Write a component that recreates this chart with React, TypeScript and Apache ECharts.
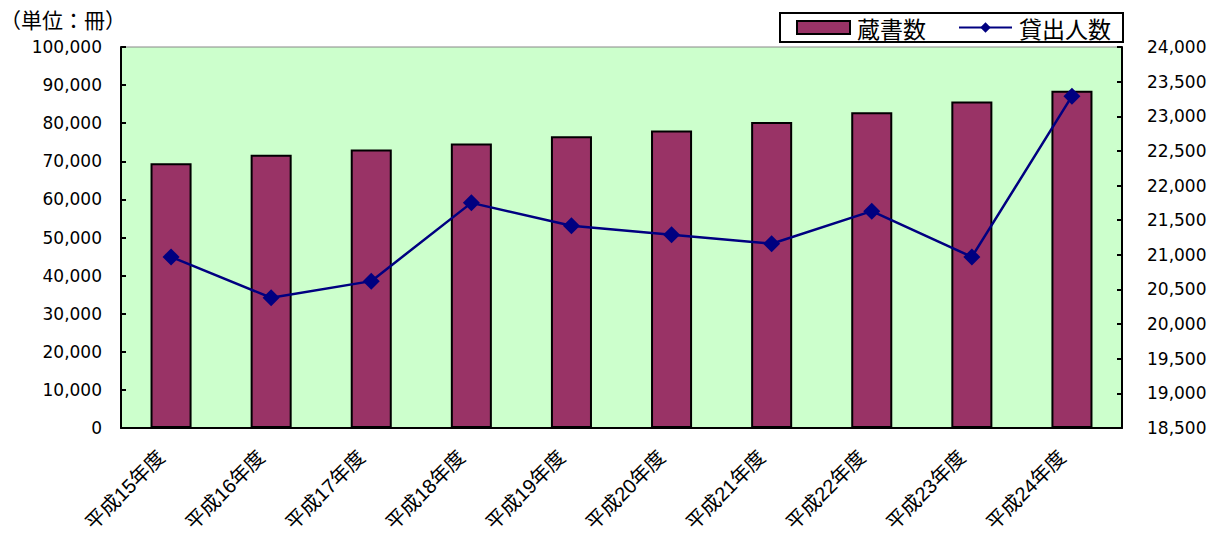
import React, { useEffect, useRef } from "react";
import * as echarts from "echarts";

const categories = ["平成15年度", "平成16年度", "平成17年度", "平成18年度", "平成19年度", "平成20年度", "平成21年度", "平成22年度", "平成23年度", "平成24年度"];
const zoshoValues = [69500, 71700, 73100, 74700, 76600, 78100, 80300, 82900, 85700, 88500];
const kashidashiValues = [20970, 20380, 20620, 21750, 21420, 21290, 21160, 21630, 20970, 23290];
const seriesNames = ["蔵書数", "貸出人数"];
const unitLabel = "（単位：冊）";

const NUM_FONT = "'DejaVu Sans', 'Noto Sans CJK JP', sans-serif";
const CAT_FONT = "'Liberation Sans', 'Noto Sans CJK JP', sans-serif";
const CJK_FONT = "'Noto Sans CJK JP', sans-serif";

export default function App() {
  const ref = useRef<HTMLDivElement>(null);
  useEffect(() => {
    if (!ref.current) return;
    const chart = echarts.init(ref.current, undefined, { renderer: "svg" });
    chart.setOption({
      animation: false,
      graphic: [
        {
          type: "text",
          left: 0,
          top: 8,
          style: { text: unitLabel, font: `21px ${CJK_FONT}`, fill: "#000" },
        },
      ],
      legend: {
        data: [
          { name: seriesNames[0], icon: "rect" },
          { name: seriesNames[1] },
        ],
        left: 780,
        top: 13,
        itemWidth: 53,
        itemHeight: 13,
        itemGap: 32,
        padding: [3, 12, 3, 16],
        backgroundColor: "#fff",
        borderColor: "#000",
        borderWidth: 2,
        borderRadius: 0,
        textStyle: { fontSize: 23, color: "#000", fontFamily: CJK_FONT, padding: [0, 0, 0, 2] },
      },
      grid: {
        left: 121,
        right: 1211 - 1122,
        top: 47,
        bottom: 538 - 428,
        show: true,
        backgroundColor: "#CCFFCC",
        borderColor: "#888",
        borderWidth: 1,
        containLabel: false,
      },
      xAxis: {
        type: "category",
        data: categories,
        axisLine: { lineStyle: { color: "#000", width: 2 } },
        axisTick: { inside: true, length: 5, lineStyle: { color: "#000", width: 2 } },
        axisLabel: {
          rotate: 45,
          fontSize: 20,
          color: "#000",
          margin: 16,
          padding: [0, 14, 0, 0],
          fontFamily: CAT_FONT,
        },
      },
      yAxis: [
        {
          type: "value",
          min: 0,
          max: 100000,
          interval: 10000,
          axisLine: { show: true, lineStyle: { color: "#000", width: 2 } },
          axisTick: { show: true, inside: true, length: 5, lineStyle: { color: "#000", width: 2 } },
          splitLine: { show: false },
          axisLabel: {
            fontSize: 17,
            color: "#000",
            margin: 19,
            fontFamily: NUM_FONT,
            formatter: (v: number) => v.toLocaleString("en-US"),
          },
        },
        {
          type: "value",
          min: 18500,
          max: 24000,
          interval: 500,
          position: "right",
          axisLine: { show: true, lineStyle: { color: "#000", width: 2 } },
          axisTick: { show: true, inside: true, length: 5, lineStyle: { color: "#000", width: 2 } },
          splitLine: { show: false },
          axisLabel: {
            fontSize: 17,
            color: "#000",
            margin: 25,
            fontFamily: NUM_FONT,
            formatter: (v: number) => v.toLocaleString("en-US"),
          },
        },
      ],
      series: [
        {
          name: seriesNames[0],
          type: "bar",
          data: zoshoValues,
          barWidth: "41%",
          itemStyle: { color: "#993366", borderColor: "#000", borderWidth: 2 },
        },
        {
          name: seriesNames[1],
          type: "line",
          yAxisIndex: 1,
          data: kashidashiValues,
          symbol: "diamond",
          symbolSize: 17,
          lineStyle: { color: "#000080", width: 2.5 },
          itemStyle: { color: "#000080" },
        },
      ],
    });
    return () => chart.dispose();
  }, []);
  return (
    <div
      ref={ref}
      style={{ position: "fixed", left: 0, top: 0, width: 1211, height: 538, background: "#fff" }}
    />
  );
}
